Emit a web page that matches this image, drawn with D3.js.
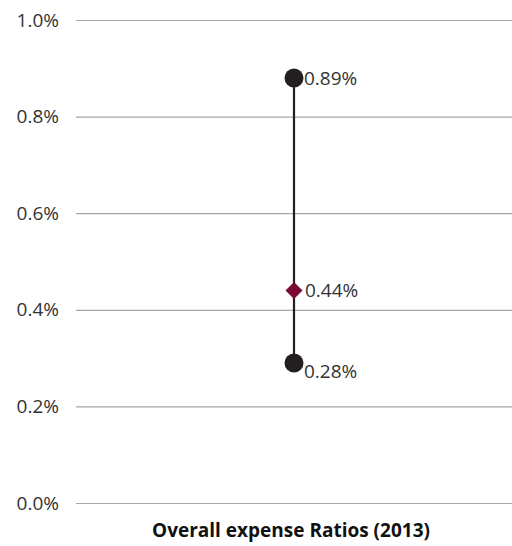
<!DOCTYPE html>
<html>
<head>
<meta charset="utf-8">
<script src="https://cdn.jsdelivr.net/npm/d3@7"></script>
<style>
  html, body { margin: 0; padding: 0; background: #ffffff; }
  svg { display: block; font-family: "Open Sans", "Noto Sans", sans-serif; }
</style>
</head>
<body>
<svg id="chart" width="512" height="546"></svg>
<script>
// ---- data ----
const category = "Overall expense Ratios (2013)";
const yTicks = [0, 0.2, 0.4, 0.6, 0.8, 1.0];
const yTickLabels = ["0.0%", "0.2%", "0.4%", "0.6%", "0.8%", "1.0%"];
const rangeValues = [0.88, 0.29];          // high, low (circles)
const rangeLabels = ["0.89%", "0.28%"];
const midValue = [0.44];                   // diamond
const midLabel = ["0.44%"];

// ---- layout ----
const svg = d3.select("#chart");
const W = 512, H = 546;
const margin = { left: 76, right: 0, top: 20, bottom: 43 };

const y = d3.scaleLinear().domain([0, 1.0]).range([H - margin.bottom, margin.top]);
const x = d3.scaleBand().domain([category]).range([margin.left, W - margin.right]).padding(0);
const cx = x(category) + x.bandwidth() / 2;

// gridlines
const yAxis = d3.axisLeft(y).tickValues(yTicks).tickSize(-(W - margin.left)).tickFormat((d, i) => yTickLabels[i]);
const gAxis = svg.append("g").attr("transform", `translate(${margin.left},0)`).call(yAxis);
gAxis.select(".domain").remove();
gAxis.selectAll(".tick line").attr("stroke", "#a6a6a6").attr("stroke-width", 1.2);
gAxis.selectAll(".tick text")
  .attr("x", -17)
  .attr("fill", "#333333")
  .style("font-size", "19px")
  .style("font-family", "'Open Sans', sans-serif");

// x label
svg.append("text")
  .attr("x", cx - 3)
  .attr("y", 537)
  .attr("text-anchor", "middle")
  .attr("fill", "#111111")
  .style("font-size", "19px")
  .style("font-weight", "bold")
  .text(category);

// range line
svg.append("line")
  .attr("x1", cx).attr("x2", cx)
  .attr("y1", y(rangeValues[0])).attr("y2", y(rangeValues[1]))
  .attr("stroke", "#231f20").attr("stroke-width", 2.2);

// circles
svg.selectAll("circle.pt").data(rangeValues).enter().append("circle")
  .attr("class", "pt")
  .attr("cx", cx).attr("cy", d => y(d)).attr("r", 9.5)
  .attr("fill", "#231f20");

// diamond
svg.selectAll("path.mid").data(midValue).enter().append("path")
  .attr("class", "mid")
  .attr("transform", d => `translate(${cx},${y(d)})`)
  .attr("d", "M0,-8.5L8.5,0L0,8.5L-8.5,0Z")
  .attr("fill", "#7a0a33");

// labels
const labelOffsets = [0, 8];
svg.selectAll("text.rl").data(rangeValues).enter().append("text")
  .attr("class", "rl")
  .attr("x", cx + 10)
  .attr("y", (d, i) => y(d) + labelOffsets[i])
  .attr("dy", "0.35em")
  .attr("fill", "#333333")
  .style("font-size", "19px")
  .text((d, i) => rangeLabels[i]);

svg.selectAll("text.ml").data(midValue).enter().append("text")
  .attr("class", "ml")
  .attr("x", cx + 11)
  .attr("y", d => y(d))
  .attr("dy", "0.35em")
  .attr("fill", "#333333")
  .style("font-size", "19px")
  .text((d, i) => midLabel[i]);
</script>
</body>
</html>
